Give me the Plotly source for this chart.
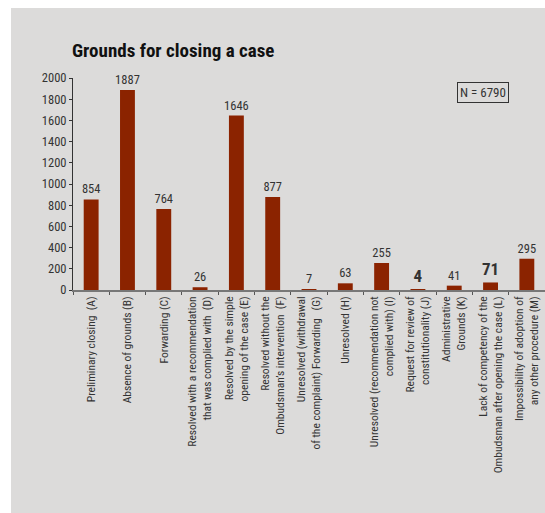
import plotly.graph_objects as go

# Categories (grounds for closing) and number of cases in each
codes = ["A", "B", "C", "D", "E", "F", "G", "H", "I", "J", "K", "L", "M"]
labels = [
    "Preliminary closing  (A)",
    "Absence of grounds (B)",
    "Forwarding (C)",
    "Resolved with a recommendation<br>that was complied with  (D)",
    "Resolved by the simple<br>opening of the case (E)",
    "Resolved without the<br>Ombudsman\u2019s intervention  (F)",
    "Unresolved (withdrawal<br>of the complaint) Forwarding   (G)",
    "Unresolved (H)",
    "Unresolved (recommendation not<br>complied with) (I)",
    "Request for review of<br>constitutionality (J)",
    "Administrative<br>Grounds (K)",
    "Lack of competency of the<br>Ombudsman after opening the case (L)",
    "Impossibility of adoption of<br>any other procedure (M)",
]
cases = [854, 1887, 764, 26, 1646, 877, 7, 63, 255, 4, 41, 71, 295]
total = 6790
y_ticks = list(range(0, 2001, 200))

# Value labels drawn larger and in bold
highlighted = {"J", "L"}

W, H = 545, 513
L, R, T, B = 73, 0, 78, 223
pw, ph = W - L - R, H - T - B


def px(x):
    return (x - L) / pw


def py(y):
    return (H - B - y) / ph


BAR = "#8b2300"
TXT = "#333333"
FONT = "Liberation Sans Narrow, Roboto Condensed, Roboto, Arial, sans-serif"

text = [f"<b>{v}</b>" if c in highlighted else str(v) for c, v in zip(codes, cases)]
sizes = [17 if c in highlighted else 12.5 for c in codes]

fig = go.Figure(
    go.Bar(
        x=labels,
        y=cases,
        marker=dict(color=BAR, line=dict(width=0)),
        width=0.41,
        text=text,
        textposition="outside",
        constraintext="none",
        textfont=dict(size=sizes, color=TXT, family=FONT),
        cliponaxis=False,
        hoverinfo="skip",
    )
)

fig.update_layout(
    width=W,
    height=H,
    margin=dict(l=L, r=R, t=T, b=B, pad=0),
    paper_bgcolor="white",
    plot_bgcolor="rgba(0,0,0,0)",
    showlegend=False,
    font=dict(family=FONT, color=TXT),
    shapes=[
        dict(
            type="rect", xref="paper", yref="paper", layer="below",
            x0=px(11), x1=px(546), y0=py(513), y1=py(8),
            fillcolor="#dcdbda", line=dict(width=0),
        )
    ],
    annotations=[
        dict(
            text="<b>Grounds for closing a case</b>", xref="paper", yref="paper",
            x=px(70), y=py(50), xanchor="left", yanchor="middle", showarrow=False,
            font=dict(size=19, color="#111111", family=FONT),
        ),
        dict(
            text=f"N = {total}", xref="paper", yref="paper",
            x=px(482.5), y=py(92.5), xanchor="center", yanchor="middle", showarrow=False,
            font=dict(size=13, color=TXT, family=FONT),
            bordercolor="#333333", borderwidth=1, borderpad=2,
        ),
    ],
)

fig.update_yaxes(
    range=[0, 2000],
    tickvals=y_ticks,
    showgrid=False,
    zeroline=False,
    showline=True,
    linecolor="#333333",
    linewidth=1,
    ticks="outside",
    ticklen=3,
    tickcolor="#333333",
    tickfont=dict(size=12.5, color=TXT, family=FONT),
)

fig.update_xaxes(
    range=[-0.5, 12.5],
    showgrid=False,
    showline=True,
    linecolor="#777777",
    linewidth=1.5,
    ticks="outside",
    tickson="boundaries",
    ticklen=3,
    tickcolor="#555555",
    tickangle=-90,
    tickfont=dict(size=11.5, color=TXT, family=FONT),
)

fig.write_html("out.html")
